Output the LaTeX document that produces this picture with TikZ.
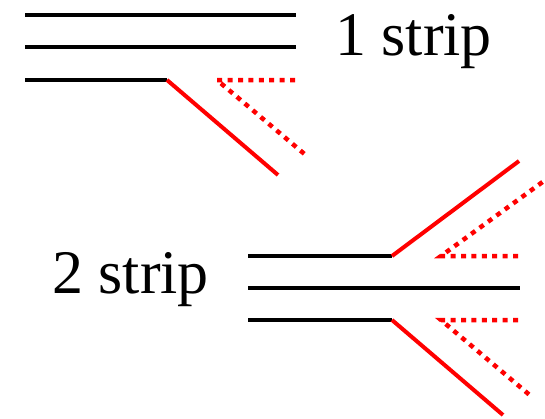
\documentclass[tikz,border=0pt]{standalone}
\usepackage{fontspec}
\setmainfont{Liberation Serif}
\begin{document}
\begin{tikzpicture}[x=1pt,y=-1pt,
  strip/.style={line width=4pt,black},
  peel/.style={line width=4pt,red},
  peeldot/.style={line width=4.5pt,red,dash pattern=on 5pt off 5.4pt},
  lbl/.style={font=\fontsize{62}{62}\selectfont,inner sep=0pt,anchor=base west}]
\useasboundingbox (0,0) rectangle (545,418);

% single strip: three layers, the lowest one peeling off
\coordinate (a1) at (25,15);   \coordinate (a1e) at (296,15);
\coordinate (a2) at (25,47);   \coordinate (a2e) at (296,47);
\coordinate (a3) at (25,80);   \coordinate (a3k) at (167,80);
\coordinate (a3p) at (278,175);
\coordinate (a3d) at (217,80); \coordinate (a3dh) at (295,80);
\coordinate (a3dd) at (308,157);
\draw[strip] (a1) -- (a1e);
\draw[strip] (a2) -- (a2e);
\draw[strip] (a3) -- (a3k);
\draw[peel] (a3k) -- (a3p);
\draw[peeldot] (a3dh) -- (a3d) -- (a3dd);
\node[lbl] (one) at (335,55) {1 strip};

% double strip: top and bottom layers peeling off
\coordinate (b1) at (248,256); \coordinate (b1k) at (392,256);
\coordinate (b2) at (248,288); \coordinate (b2e) at (520,288);
\coordinate (b3) at (248,320); \coordinate (b3k) at (392,320);
\coordinate (b1p) at (519,161);
\coordinate (b3p) at (503,415);
\coordinate (b1d) at (441,256); \coordinate (b1dh) at (518,256);
\coordinate (b1dd) at (548,178);
\coordinate (b3d) at (441,320); \coordinate (b3dh) at (518,320);
\coordinate (b3dd) at (532,397);
\draw[strip] (b1) -- (b1k);
\draw[strip] (b2) -- (b2e);
\draw[strip] (b3) -- (b3k);
\draw[peel] (b1k) -- (b1p);
\draw[peel] (b3k) -- (b3p);
\draw[peeldot] (b1dh) -- (b1d) -- (b1dd);
\draw[peeldot] (b3dh) -- (b3d) -- (b3dd);
\node[lbl] (two) at (52,293) {2 strip};
\end{tikzpicture}
\end{document}
